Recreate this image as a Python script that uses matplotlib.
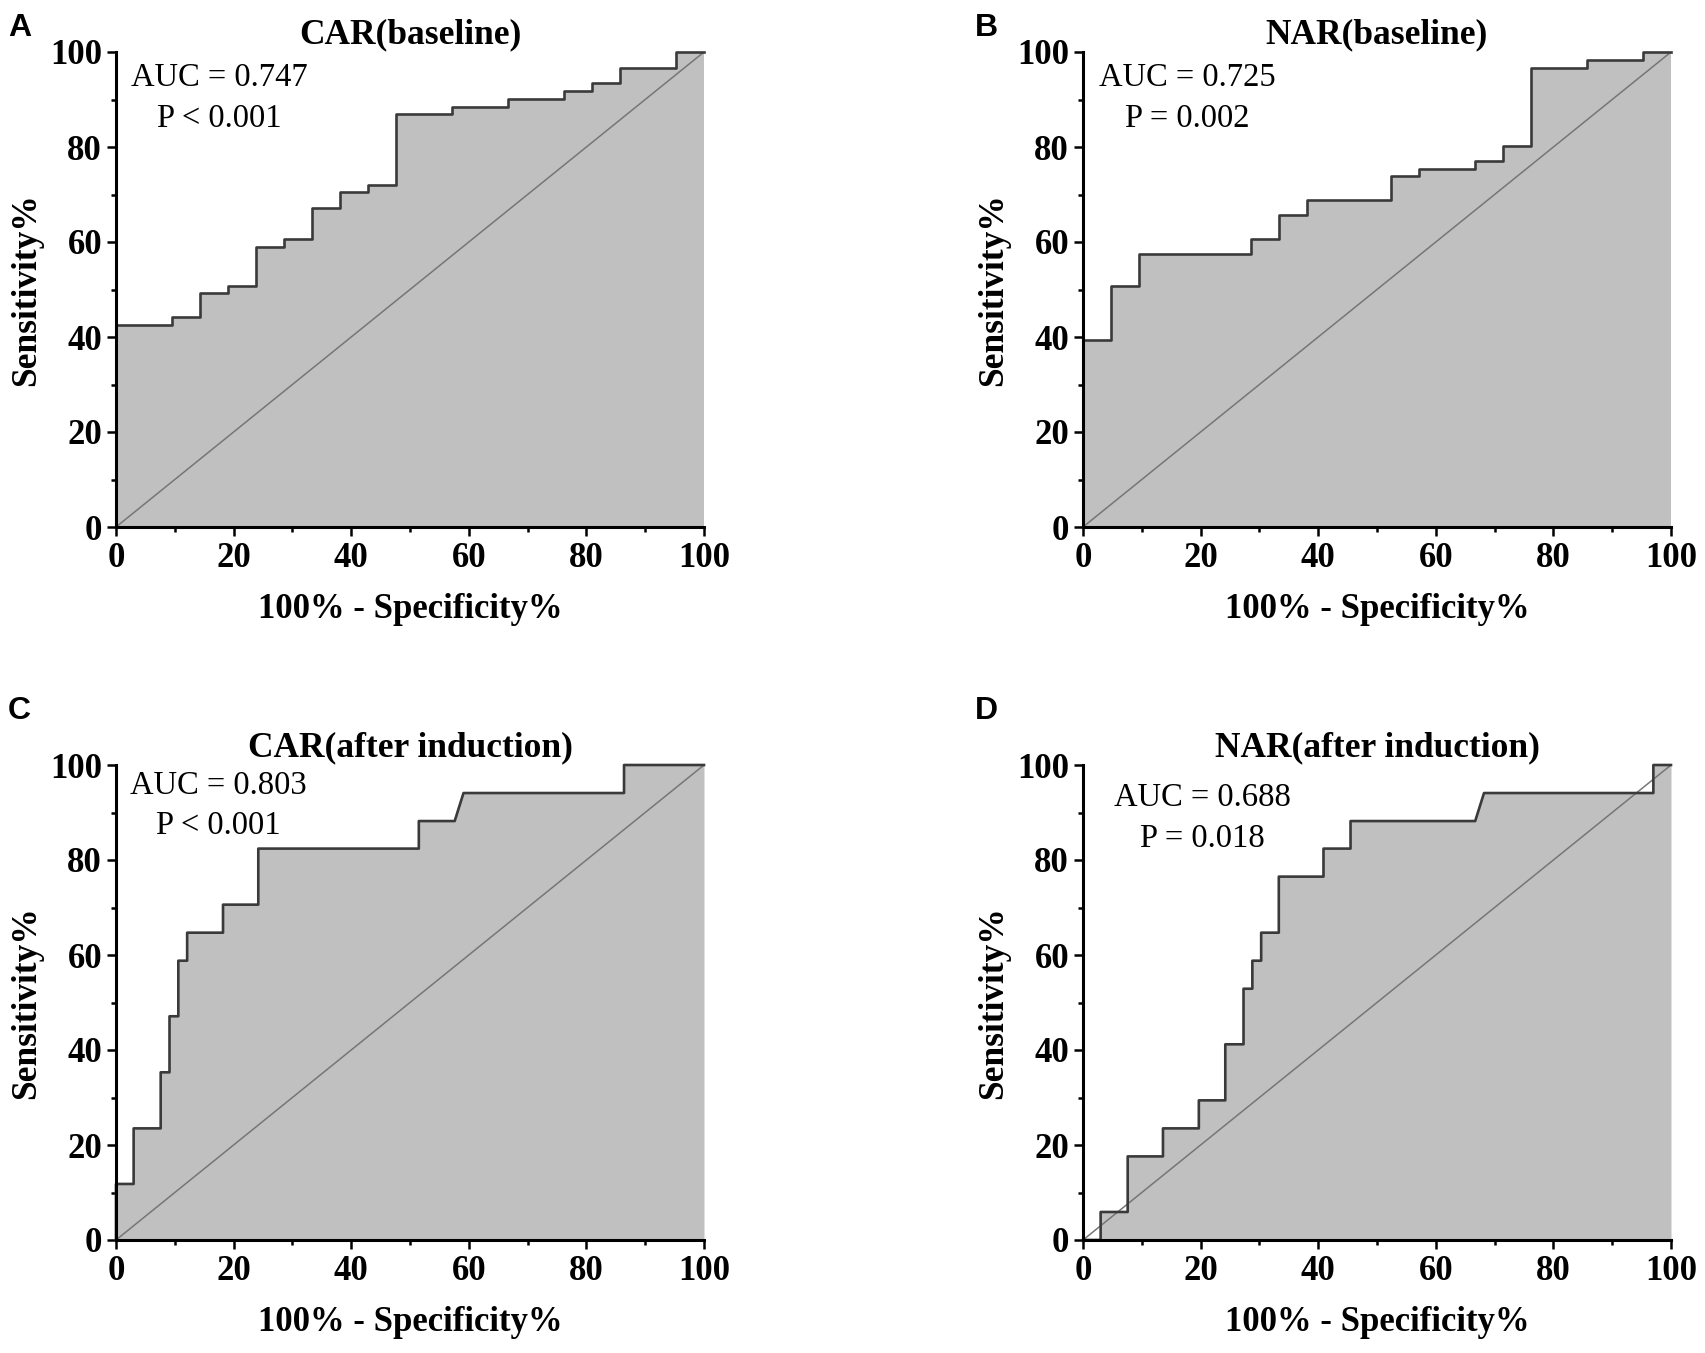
import numpy as np
import matplotlib
matplotlib.use('Agg')
import matplotlib.pyplot as plt
from matplotlib.ticker import MultipleLocator

matplotlib.rcParams['font.family'] = ['Liberation Serif', 'DejaVu Serif']
matplotlib.rcParams['axes.unicode_minus'] = False

# ROC vertices (100% - specificity %, sensitivity %)
car_base_fpr = [0, 0, 9.5, 9.5, 14.3, 14.3, 19.0, 19.0, 23.8, 23.8, 28.6, 28.6, 33.3, 33.3,
                38.1, 38.1, 42.9, 42.9, 47.6, 47.6, 57.1, 57.1, 66.7, 66.7, 76.2, 76.2,
                81.0, 81.0, 85.7, 85.7, 95.2, 95.2, 100]
car_base_tpr = [0, 42.6, 42.6, 44.3, 44.3, 49.2, 49.2, 50.8, 50.8, 59.0, 59.0, 60.7, 60.7, 67.2,
                67.2, 70.5, 70.5, 72.1, 72.1, 86.9, 86.9, 88.5, 88.5, 90.2, 90.2, 91.8,
                91.8, 93.4, 93.4, 96.7, 96.7, 100, 100]

nar_base_fpr = [0, 0, 4.8, 4.8, 9.5, 9.5, 28.6, 28.6, 33.3, 33.3, 38.1, 38.1, 52.4, 52.4,
                57.1, 57.1, 66.7, 66.7, 71.4, 71.4, 76.2, 76.2, 85.7, 85.7, 95.2, 95.2, 100]
nar_base_tpr = [0, 39.3, 39.3, 50.8, 50.8, 57.4, 57.4, 60.7, 60.7, 65.6, 65.6, 68.9, 68.9, 73.8,
                73.8, 75.4, 75.4, 77.0, 77.0, 80.3, 80.3, 96.7, 96.7, 98.4, 98.4, 100, 100]

car_ind_fpr = [0, 0, 3.0, 3.0, 7.6, 7.6, 9.1, 9.1, 10.6, 10.6, 12.1, 12.1, 18.2, 18.2,
               24.2, 24.2, 51.5, 51.5, 57.6, 59.1, 86.4, 86.4, 100]
car_ind_tpr = [0, 11.8, 11.8, 23.5, 23.5, 35.3, 35.3, 47.1, 47.1, 58.8, 58.8, 64.7, 64.7, 70.6,
               70.6, 82.4, 82.4, 88.2, 88.2, 94.1, 94.1, 100, 100]

nar_ind_fpr = [0, 3.0, 3.0, 7.6, 7.6, 13.6, 13.6, 19.7, 19.7, 24.2, 24.2, 27.3, 27.3, 28.8,
               28.8, 30.3, 30.3, 33.3, 33.3, 40.9, 40.9, 45.5, 45.5, 66.7, 68.2, 97.0, 97.0, 100]
nar_ind_tpr = [0, 0, 5.9, 5.9, 17.6, 17.6, 23.5, 23.5, 29.4, 29.4, 41.2, 41.2, 52.9, 52.9,
               58.8, 58.8, 64.7, 64.7, 76.5, 76.5, 82.4, 82.4, 88.2, 88.2, 94.1, 94.1, 100, 100]

titles = ['CAR(baseline)', 'NAR(baseline)', 'CAR(after induction)', 'NAR(after induction)']
letters = ['A', 'B', 'C', 'D']
auc_lines = ['AUC = 0.747', 'AUC = 0.725', 'AUC = 0.803', 'AUC = 0.688']
p_lines = ['P < 0.001', 'P = 0.002', 'P < 0.001', 'P = 0.018']
curves = [(car_base_fpr, car_base_tpr), (nar_base_fpr, nar_base_tpr),
          (car_ind_fpr, car_ind_tpr), (nar_ind_fpr, nar_ind_tpr)]

W, H = 1706, 1353
fig = plt.figure(figsize=(W / 100, H / 100), dpi=100)

# axes boxes in pixels: left, top (from image top)
boxes = [(116, 52), (1083, 52), (116, 765), (1083, 765)]
ax_w, ax_h = 588, 475
# text anchor (x centre, baseline of AUC line, baseline of P line) in data units
text_pos = [(17.6, 92.9, 84.3), (17.7, 92.9, 84.3), (17.4, 94.0, 85.4), (20.3, 91.3, 82.7)]
# panel letter baseline (px from image top)
letter_y = [36, 36, 719, 719]

for i, (fpr, tpr) in enumerate(curves):
    left, top = boxes[i]
    ax = fig.add_axes([left / W, 1 - (top + ax_h) / H, ax_w / W, ax_h / H])
    ax.fill_between(fpr, tpr, 0, color='#c0c0c0', lw=0, zorder=1)
    ax.plot([0, 100], [0, 100], color='#767676', lw=1.1, zorder=2)
    ax.plot(fpr, tpr, color='#3a3a3a', lw=1.9, zorder=3, clip_on=False)
    ax.set_xlim(0, 100)
    ax.set_ylim(0, 100)
    ax.xaxis.set_major_locator(MultipleLocator(20))
    ax.yaxis.set_major_locator(MultipleLocator(20))
    ax.xaxis.set_minor_locator(MultipleLocator(10))
    ax.yaxis.set_minor_locator(MultipleLocator(10))
    for s in ['top', 'right']:
        ax.spines[s].set_visible(False)
    for s in ['left', 'bottom']:
        ax.spines[s].set_linewidth(2.2)
        ax.spines[s].set_zorder(5)
    ax.tick_params(axis='x', which='major', length=6.5, width=1.8, labelsize=25, pad=4)
    ax.tick_params(axis='y', which='major', length=6.5, width=1.8, labelsize=25, pad=3.5)
    ax.tick_params(which='minor', length=3.6, width=1.8)
    for lab in ax.get_xticklabels() + ax.get_yticklabels():
        lab.set_fontweight('bold')
    ax.set_xlabel('100% - Specificity%', fontsize=25, fontweight='bold', labelpad=13)
    ax.set_ylabel('Sensitivity%', fontsize=25.5, fontweight='bold', labelpad=5)
    ax.set_title(titles[i], fontsize=25.5, fontweight='bold', pad=6)
    tx, ya, yp = text_pos[i]
    ax.text(tx, ya, auc_lines[i], fontsize=23.5, ha='center', va='baseline', zorder=6)
    ax.text(tx, yp, p_lines[i], fontsize=23.5, ha='center', va='baseline', zorder=6)

    fig.text((left - 108) / W, 1 - letter_y[i] / H, letters[i], fontsize=23,
             fontweight='bold', family='Liberation Sans', va='baseline', ha='left')

fig.savefig('out.png', dpi=100)
